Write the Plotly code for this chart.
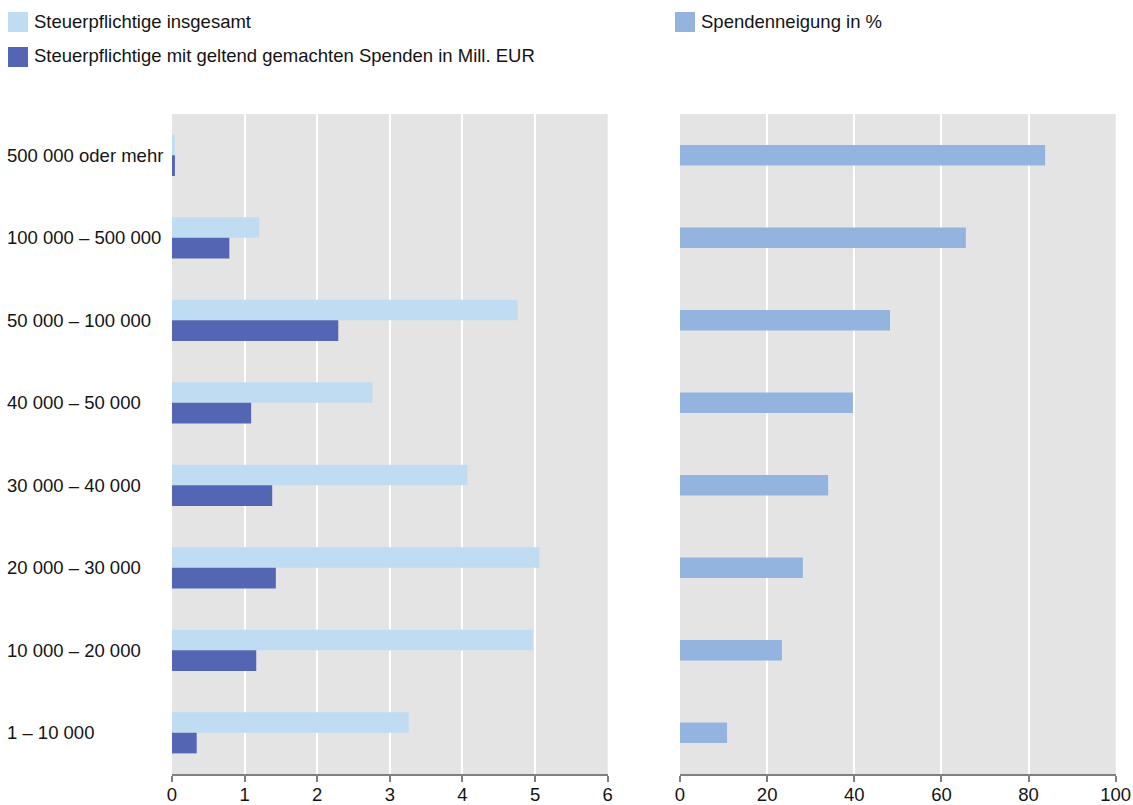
import plotly.graph_objects as go

# Einkommensklassen (von oben nach unten)
categories = [
    "500 000 oder mehr",
    "100 000 – 500 000",
    "50 000 – 100 000",
    "40 000 – 50 000",
    "30 000 – 40 000",
    "20 000 – 30 000",
    "10 000 – 20 000",
    "1 – 10 000",
]
steuerpflichtige_insgesamt = [0.04, 1.2, 4.76, 2.76, 4.07, 5.06, 4.97, 3.26]
steuerpflichtige_mit_spenden = [0.04, 0.79, 2.29, 1.09, 1.38, 1.43, 1.16, 0.34]
spendenneigung = [83.8, 65.6, 48.2, 39.7, 34.0, 28.2, 23.4, 10.8]

left_ticks = [0, 1, 2, 3, 4, 5, 6]
right_ticks = [0, 20, 40, 60, 80, 100]

legend_left = ["Steuerpflichtige insgesamt",
               "Steuerpflichtige mit geltend gemachten Spenden in Mill. EUR"]
legend_right = "Spendenneigung in %"

C_LIGHT = "#bfdcf2"
C_DARK = "#5466b3"
C_MID = "#94b4e0"
BG = "#e4e4e4"
FONT = "Liberation Sans, Arial, sans-serif"
FS = 18.5
TXT = "#141414"

W, H = 1133, 805
T, B = 114, 31
PH = H - T - B


def px(x):
    return x / W


def py(y):
    return (H - B - y) / PH


fig = go.Figure()
fig.add_trace(go.Bar(y=categories, x=steuerpflichtige_insgesamt, orientation="h",
                     marker=dict(color=C_LIGHT, line=dict(width=0)),
                     xaxis="x", yaxis="y", showlegend=False))
fig.add_trace(go.Bar(y=categories, x=steuerpflichtige_mit_spenden, orientation="h",
                     marker=dict(color=C_DARK, line=dict(width=0)),
                     xaxis="x", yaxis="y", showlegend=False))
fig.add_trace(go.Bar(y=categories, x=spendenneigung, orientation="h",
                     marker=dict(color=C_MID, line=dict(width=0)),
                     width=0.25, xaxis="x2", yaxis="y2", showlegend=False))

axis_common = dict(
    showgrid=True, gridcolor="white", gridwidth=2, zeroline=False,
    showline=True, linecolor="#808080", linewidth=2,
    ticks="outside", ticklen=6, tickwidth=2, tickcolor="#808080",
    tickfont=dict(family=FONT, size=FS, color=TXT), ticklabelstandoff=-3,
    automargin=False, fixedrange=True,
)
yaxis_common = dict(
    categoryorder="array", categoryarray=categories, autorange="reversed",
    showticklabels=False, showgrid=False, zeroline=False, ticks="",
    automargin=False, fixedrange=True,
)

fig.update_layout(
    width=W, height=H,
    margin=dict(l=0, r=0, t=T, b=B, autoexpand=False),
    paper_bgcolor="white", plot_bgcolor=BG,
    barmode="group", bargap=0.5, bargroupgap=0,
    font=dict(family=FONT, size=FS, color=TXT),
    xaxis=dict(domain=[px(172), px(607.7)], range=[0, 6], tickvals=left_ticks,
               anchor="y", **axis_common),
    xaxis2=dict(domain=[px(680), px(1115.7)], range=[0, 100], tickvals=right_ticks,
                anchor="y2", **axis_common),
    yaxis=dict(anchor="x", **yaxis_common),
    yaxis2=dict(anchor="x2", **yaxis_common),
    showlegend=False,
)

# Klassenbeschriftungen, linksbündig
for cat in categories:
    fig.add_annotation(x=px(5), xref="paper", y=cat, yref="y", text=cat,
                       showarrow=False, xanchor="left", yanchor="middle",
                       font=dict(family=FONT, size=FS, color=TXT))

# Legende
legend_items = [
    (8, 22, C_LIGHT, legend_left[0]),
    (8, 57, C_DARK, legend_left[1]),
    (675, 22, C_MID, legend_right),
]
for x0, yc, col, label in legend_items:
    fig.add_shape(type="rect", xref="paper", yref="paper",
                  x0=px(x0), x1=px(x0 + 20), y0=py(yc - 10), y1=py(yc + 10),
                  fillcolor=col, line=dict(width=0))
    fig.add_annotation(x=px(x0 + 24), xref="paper", y=py(yc - 1), yref="paper",
                       text=label, showarrow=False, xanchor="left", yanchor="middle",
                       font=dict(family=FONT, size=FS, color=TXT))

fig.write_html("out.html")
